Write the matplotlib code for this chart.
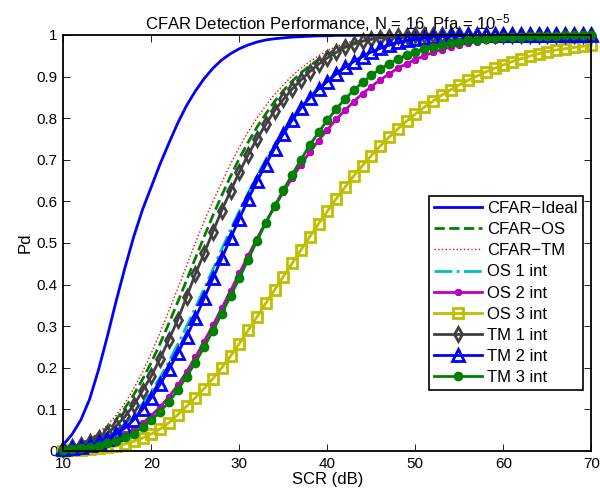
import numpy as np
import matplotlib
matplotlib.use('Agg')
import matplotlib.pyplot as plt

plt.rcParams['font.family'] = ['Liberation Sans', 'DejaVu Sans']
plt.rcParams['mathtext.fontset'] = 'custom'
plt.rcParams['mathtext.rm'] = 'Liberation Sans'
plt.rcParams['mathtext.it'] = 'Liberation Sans'

# SCR grid (dB)
scr = list(range(10, 71))

pd_ideal = [
    0.015, 0.040, 0.075, 0.125, 0.195, 0.275, 0.360, 0.440, 0.515, 0.580,
    0.635, 0.690, 0.740, 0.788, 0.830, 0.865, 0.895, 0.920, 0.940, 0.955,
    0.967, 0.976, 0.983, 0.988, 0.991, 0.993, 0.995, 0.996, 0.997, 0.998,
    0.998, 0.999, 0.999, 0.999, 0.999, 0.999, 0.999, 0.999, 0.999, 0.999,
    1.000, 1.000, 1.000, 1.000, 1.000, 1.000, 1.000, 1.000, 1.000, 1.000,
    1.000, 1.000, 1.000, 1.000, 1.000, 1.000, 1.000, 1.000, 1.000, 1.000, 1.000]
pd_cfar_os = [
    0.005, 0.011, 0.018, 0.027, 0.039, 0.055, 0.076, 0.103, 0.135, 0.172,
    0.213, 0.258, 0.307, 0.358, 0.410, 0.463, 0.515, 0.566, 0.614, 0.660,
    0.703, 0.742, 0.778, 0.810, 0.840, 0.866, 0.889, 0.909, 0.926, 0.941,
    0.954, 0.965, 0.974, 0.981, 0.986, 0.990, 0.993, 0.995, 0.997, 0.998,
    0.999, 0.999, 0.999, 0.999, 0.999, 0.999, 0.999, 0.999, 0.999, 0.999,
    1.000, 1.000, 1.000, 1.000, 1.000, 1.000, 1.000, 1.000, 1.000, 1.000, 1.000]
pd_cfar_tm = [
    0.006, 0.012, 0.020, 0.030, 0.044, 0.062, 0.086, 0.115, 0.150, 0.190,
    0.235, 0.285, 0.337, 0.390, 0.445, 0.500, 0.552, 0.600, 0.645, 0.690,
    0.730, 0.767, 0.800, 0.830, 0.857, 0.880, 0.902, 0.920, 0.936, 0.950,
    0.962, 0.972, 0.980, 0.986, 0.990, 0.993, 0.995, 0.997, 0.998, 0.999,
    1.000, 1.000, 1.000, 1.000, 1.000, 1.000, 1.000, 1.000, 1.000, 1.000,
    1.000, 1.000, 1.000, 1.000, 1.000, 1.000, 1.000, 1.000, 1.000, 1.000, 1.000]
pd_os1 = [
    0.004, 0.008, 0.012, 0.018, 0.025, 0.035, 0.048, 0.065, 0.087, 0.113,
    0.143, 0.177, 0.215, 0.256, 0.299, 0.344, 0.390, 0.437, 0.485, 0.532,
    0.577, 0.620, 0.661, 0.700, 0.736, 0.769, 0.800, 0.828, 0.852, 0.873,
    0.891, 0.908, 0.923, 0.937, 0.949, 0.960, 0.969, 0.976, 0.982, 0.987,
    0.990, 0.993, 0.995, 0.996, 0.997, 0.998, 0.999, 0.999, 0.999, 0.999,
    1.000, 1.000, 1.000, 1.000, 1.000, 1.000, 1.000, 1.000, 1.000, 1.000, 1.000]
pd_os2 = [
    0.003, 0.005, 0.008, 0.011, 0.016, 0.022, 0.030, 0.040, 0.052, 0.067,
    0.085, 0.106, 0.130, 0.158, 0.190, 0.225, 0.263, 0.302, 0.343, 0.385,
    0.427, 0.469, 0.510, 0.550, 0.587, 0.622, 0.656, 0.688, 0.718, 0.746,
    0.772, 0.797, 0.819, 0.840, 0.859, 0.876, 0.892, 0.906, 0.920, 0.931,
    0.941, 0.950, 0.958, 0.965, 0.971, 0.976, 0.980, 0.984, 0.987, 0.989,
    0.991, 0.993, 0.994, 0.995, 0.996, 0.997, 0.997, 0.998, 0.998, 0.999, 0.999]
pd_os3 = [
    0.001, 0.002, 0.003, 0.004, 0.006, 0.009, 0.012, 0.017, 0.023, 0.031,
    0.041, 0.053, 0.068, 0.087, 0.107, 0.128, 0.150, 0.174, 0.200, 0.228,
    0.258, 0.290, 0.322, 0.355, 0.387, 0.419, 0.451, 0.483, 0.515, 0.546,
    0.576, 0.606, 0.634, 0.661, 0.686, 0.710, 0.733, 0.754, 0.774, 0.793,
    0.810, 0.826, 0.841, 0.855, 0.868, 0.880, 0.891, 0.901, 0.911, 0.920,
    0.928, 0.936, 0.943, 0.949, 0.955, 0.960, 0.964, 0.967, 0.970, 0.973, 0.975]
pd_tm1 = [
    0.005, 0.010, 0.015, 0.022, 0.031, 0.043, 0.060, 0.083, 0.110, 0.145,
    0.180, 0.222, 0.268, 0.315, 0.370, 0.425, 0.475, 0.527, 0.578, 0.625,
    0.670, 0.712, 0.750, 0.785, 0.818, 0.845, 0.870, 0.892, 0.912, 0.930,
    0.945, 0.958, 0.970, 0.978, 0.985, 0.990, 0.993, 0.995, 0.997, 0.998,
    0.999, 0.999, 0.999, 0.999, 0.999, 0.999, 0.999, 0.999, 0.999, 0.999,
    1.000, 1.000, 1.000, 1.000, 1.000, 1.000, 1.000, 1.000, 1.000, 1.000, 1.000]
pd_tm2 = [
    0.004, 0.007, 0.010, 0.015, 0.021, 0.029, 0.041, 0.055, 0.075, 0.100,
    0.128, 0.160, 0.196, 0.235, 0.275, 0.319, 0.367, 0.415, 0.463, 0.511,
    0.558, 0.605, 0.648, 0.688, 0.727, 0.762, 0.795, 0.824, 0.849, 0.870,
    0.888, 0.906, 0.922, 0.936, 0.948, 0.959, 0.968, 0.976, 0.982, 0.987,
    0.990, 0.993, 0.995, 0.996, 0.997, 0.998, 0.999, 0.999, 0.999, 0.999,
    1.000, 1.000, 1.000, 1.000, 1.000, 1.000, 1.000, 1.000, 1.000, 1.000, 1.000]
pd_tm3 = [
    0.002, 0.004, 0.006, 0.009, 0.013, 0.019, 0.025, 0.033, 0.042, 0.057,
    0.074, 0.094, 0.118, 0.146, 0.179, 0.212, 0.250, 0.289, 0.330, 0.372,
    0.415, 0.460, 0.505, 0.548, 0.588, 0.627, 0.664, 0.700, 0.735, 0.766,
    0.795, 0.822, 0.846, 0.867, 0.886, 0.903, 0.918, 0.931, 0.942, 0.952,
    0.960, 0.967, 0.972, 0.977, 0.981, 0.984, 0.987, 0.989, 0.991, 0.993,
    0.994, 0.995, 0.996, 0.997, 0.997, 0.998, 0.998, 0.999, 0.999, 0.999, 0.999]

M = '\u2212'
dkgreen = (0, 0.5, 0)

fig = plt.figure(figsize=(6, 4.95), dpi=100)
ax = fig.add_axes([0.1055, 0.0889, 0.880, 0.8404])

ax.plot(scr, pd_ideal, '-', color='b', lw=2, label='CFAR' + M + 'Ideal')
ax.plot(scr, pd_cfar_os, '--', color=dkgreen, lw=2, label='CFAR' + M + 'OS')
ax.plot(scr, pd_cfar_tm, ':', color='r', lw=1, label='CFAR' + M + 'TM')
ax.plot(scr, pd_os1, '-.', color=(0, 0.75, 0.75), lw=2, label='OS 1 int')
ax.plot(scr, pd_os2, '-', color=(0.75, 0, 0.75), lw=2, marker=(8, 2, 0), ms=5, mew=1.5,
        clip_on=False, label='OS 2 int')
ax.plot(scr, pd_os3, '-', color=(0.75, 0.75, 0), lw=2, marker='s', ms=6.5, mew=2, mfc='none',
        clip_on=False, label='OS 3 int')
ax.plot(scr, pd_tm1, '-', color=(0.25, 0.25, 0.25), lw=2, marker='d', ms=7.5, mew=2, mfc='none',
        clip_on=False, label='TM 1 int')
ax.plot(scr, pd_tm2, '-', color='b', lw=2, marker='^', ms=8.5, mew=2, mfc='none',
        clip_on=False, label='TM 2 int')
ax.plot(scr, pd_tm3, '-', color=dkgreen, lw=2, marker='o', ms=6, mew=1, mfc=dkgreen,
        clip_on=False, label='TM 3 int')

ax.set_xlim(10, 70)
ax.set_ylim(0, 1)
ax.set_xticks(range(10, 71, 10))
yt = np.round(np.arange(0, 1.01, 0.1), 1)
ax.set_yticks(yt)
ax.set_yticklabels(['0', '0.1', '0.2', '0.3', '0.4', '0.5', '0.6', '0.7', '0.8', '0.9', '1'])
ax.tick_params(direction='in', top=True, right=True, length=5, width=0.6, labelsize=11, pad=4)
for s in ax.spines.values():
    s.set_linewidth(1.3)

ax.set_xlabel('SCR (dB)', fontsize=12, labelpad=1)
ax.set_ylabel('Pd', fontsize=12, labelpad=3)
ax.set_title('CFAR Detection Performance, N = 16, Pfa = 10$^{' + M + '5}$', fontsize=12, pad=4)

leg = ax.legend(loc='upper right', bbox_to_anchor=(0.984, 0.613), borderaxespad=0, fontsize=12,
                frameon=True, fancybox=False, edgecolor='k', framealpha=1,
                handlelength=2.9, labelspacing=0.37, borderpad=0.3, handletextpad=0.3)
leg.get_frame().set_linewidth(1.2)

fig.savefig('out.png', dpi=100)
